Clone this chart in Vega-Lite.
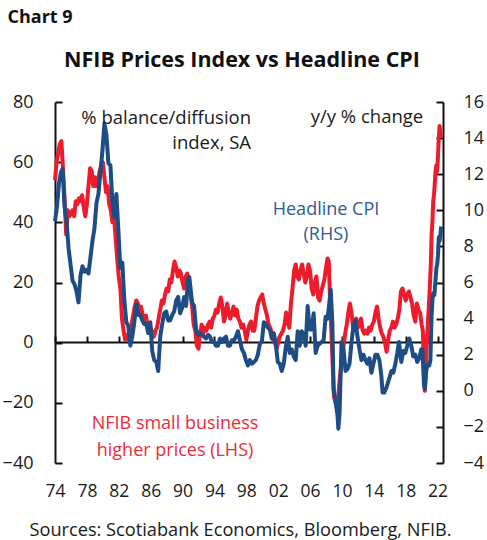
{
  "$schema": "https://vega.github.io/schema/vega-lite/v6.json",
  "width": 388,
  "height": 361,
  "autosize": {"type": "none"},
  "padding": {"left": 55, "top": 102, "right": 44, "bottom": 77},
  "background": "white",
  "title": {"text": "NFIB Prices Index vs Headline CPI", "anchor": "middle", "frame": "group", "fontSize": 21.5, "fontWeight": "bold", "font": "Open Sans", "color": "#111111", "dx": -7, "offset": 24, "dy": 87},
  "config": {"view": {"stroke": null}, "font": "Open Sans", "axis": {"grid": false, "labelFont": "Open Sans", "titleFont": "Open Sans"}},
  "datasets": {
    "nfib": [
      {"t":1974.0,"v":54},{"t":1974.2,"v":60},{"t":1974.4,"v":63},{"t":1974.6,"v":66},{"t":1974.8,"v":67},{"t":1975.0,"v":58},{"t":1975.2,"v":48},{"t":1975.4,"v":36},{"t":1975.6,"v":44},{"t":1975.8,"v":42},
      {"t":1976.0,"v":43},{"t":1976.2,"v":44},{"t":1976.4,"v":42},{"t":1976.6,"v":47},{"t":1976.8,"v":46},{"t":1977.0,"v":48},{"t":1977.2,"v":47},{"t":1977.4,"v":49},{"t":1977.6,"v":45},{"t":1977.8,"v":42},
      {"t":1978.0,"v":46},{"t":1978.2,"v":52},{"t":1978.4,"v":58},{"t":1978.6,"v":57},{"t":1978.8,"v":52},{"t":1979.0,"v":55},{"t":1979.2,"v":52},{"t":1979.4,"v":54},{"t":1979.6,"v":57},{"t":1979.8,"v":59},
      {"t":1980.0,"v":60},{"t":1980.2,"v":55},{"t":1980.4,"v":50},{"t":1980.6,"v":52},{"t":1980.8,"v":46},{"t":1981.0,"v":44},{"t":1981.2,"v":40},{"t":1981.4,"v":42},{"t":1981.6,"v":35},{"t":1981.8,"v":28},
      {"t":1982.0,"v":22},{"t":1982.2,"v":18},{"t":1982.4,"v":8},{"t":1982.6,"v":4},{"t":1982.8,"v":1},{"t":1983.0,"v":1},{"t":1983.2,"v":3},{"t":1983.4,"v":4},{"t":1983.6,"v":6},{"t":1983.8,"v":9},
      {"t":1984.0,"v":12},{"t":1984.2,"v":14},{"t":1984.4,"v":13},{"t":1984.6,"v":10},{"t":1984.8,"v":12},{"t":1985.0,"v":9},{"t":1985.2,"v":8},{"t":1985.4,"v":9},{"t":1985.6,"v":6},{"t":1985.8,"v":4},
      {"t":1986.0,"v":5},{"t":1986.2,"v":3},{"t":1986.4,"v":2},{"t":1986.6,"v":4},{"t":1986.8,"v":5},{"t":1987.0,"v":8},{"t":1987.2,"v":11},{"t":1987.4,"v":14},{"t":1987.6,"v":13},{"t":1987.8,"v":16},
      {"t":1988.0,"v":18},{"t":1988.2,"v":17},{"t":1988.4,"v":21},{"t":1988.6,"v":20},{"t":1988.8,"v":24},{"t":1989.0,"v":27},{"t":1989.2,"v":25},{"t":1989.4,"v":22},{"t":1989.6,"v":24},{"t":1989.8,"v":23},
      {"t":1990.0,"v":20},{"t":1990.2,"v":18},{"t":1990.4,"v":22},{"t":1990.6,"v":23},{"t":1990.8,"v":20},{"t":1991.0,"v":16},{"t":1991.2,"v":12},{"t":1991.4,"v":6},{"t":1991.6,"v":4},{"t":1991.8,"v":-1},
      {"t":1992.0,"v":-2},{"t":1992.2,"v":3},{"t":1992.4,"v":6},{"t":1992.6,"v":3},{"t":1992.8,"v":5},{"t":1993.0,"v":4},{"t":1993.2,"v":6},{"t":1993.4,"v":7},{"t":1993.6,"v":5},{"t":1993.8,"v":8},
      {"t":1994.0,"v":9},{"t":1994.2,"v":11},{"t":1994.4,"v":10},{"t":1994.6,"v":13},{"t":1994.8,"v":15},{"t":1995.0,"v":12},{"t":1995.2,"v":7},{"t":1995.4,"v":9},{"t":1995.6,"v":13},{"t":1995.8,"v":10},
      {"t":1996.0,"v":8},{"t":1996.2,"v":10},{"t":1996.4,"v":12},{"t":1996.6,"v":9},{"t":1996.8,"v":11},{"t":1997.0,"v":8},{"t":1997.2,"v":7},{"t":1997.4,"v":5},{"t":1997.6,"v":6},{"t":1997.8,"v":4},
      {"t":1998.0,"v":1},{"t":1998.2,"v":4},{"t":1998.4,"v":6},{"t":1998.6,"v":7},{"t":1998.8,"v":4},{"t":1999.0,"v":4},{"t":1999.2,"v":8},{"t":1999.4,"v":12},{"t":1999.6,"v":14},{"t":1999.8,"v":15},
      {"t":2000.0,"v":16},{"t":2000.2,"v":13},{"t":2000.4,"v":11},{"t":2000.6,"v":9},{"t":2000.8,"v":6},{"t":2001.0,"v":5},{"t":2001.2,"v":3},{"t":2001.4,"v":1},{"t":2001.6,"v":0},{"t":2001.8,"v":-2},
      {"t":2002.0,"v":0},{"t":2002.2,"v":2},{"t":2002.4,"v":3},{"t":2002.6,"v":4},{"t":2002.8,"v":6},{"t":2003.0,"v":10},{"t":2003.2,"v":7},{"t":2003.4,"v":5},{"t":2003.6,"v":13},{"t":2003.8,"v":18},
      {"t":2004.0,"v":24},{"t":2004.2,"v":26},{"t":2004.4,"v":22},{"t":2004.6,"v":21},{"t":2004.8,"v":24},{"t":2005.0,"v":26},{"t":2005.2,"v":23},{"t":2005.4,"v":20},{"t":2005.6,"v":22},{"t":2005.8,"v":26},
      {"t":2006.0,"v":24},{"t":2006.2,"v":18},{"t":2006.4,"v":16},{"t":2006.6,"v":20},{"t":2006.8,"v":22},{"t":2007.0,"v":15},{"t":2007.2,"v":14},{"t":2007.4,"v":17},{"t":2007.6,"v":19},{"t":2007.8,"v":21},
      {"t":2008.0,"v":25},{"t":2008.2,"v":28},{"t":2008.35,"v":27},{"t":2008.5,"v":15},{"t":2008.7,"v":2},{"t":2008.85,"v":-8},{"t":2009.0,"v":-18},{"t":2009.2,"v":-20},{"t":2009.4,"v":-22},{"t":2009.6,"v":-16},{"t":2009.8,"v":-10},
      {"t":2010.0,"v":-6},{"t":2010.2,"v":-1},{"t":2010.4,"v":3},{"t":2010.6,"v":6},{"t":2010.8,"v":10},{"t":2011.0,"v":13},{"t":2011.2,"v":10},{"t":2011.4,"v":5},{"t":2011.6,"v":6},{"t":2011.8,"v":8},
      {"t":2012.0,"v":5},{"t":2012.2,"v":6},{"t":2012.4,"v":8},{"t":2012.6,"v":4},{"t":2012.8,"v":3},{"t":2013.0,"v":4},{"t":2013.2,"v":3},{"t":2013.4,"v":5},{"t":2013.6,"v":4},{"t":2013.8,"v":6},
      {"t":2014.0,"v":7},{"t":2014.2,"v":10},{"t":2014.4,"v":12},{"t":2014.6,"v":8},{"t":2014.8,"v":5},{"t":2015.0,"v":3},{"t":2015.2,"v":2},{"t":2015.4,"v":0},{"t":2015.6,"v":-3},{"t":2015.8,"v":1},
      {"t":2016.0,"v":4},{"t":2016.2,"v":5},{"t":2016.4,"v":7},{"t":2016.6,"v":5},{"t":2016.8,"v":6},{"t":2017.0,"v":8},{"t":2017.2,"v":11},{"t":2017.4,"v":17},{"t":2017.6,"v":18},{"t":2017.8,"v":16},
      {"t":2018.0,"v":14},{"t":2018.2,"v":16},{"t":2018.4,"v":17},{"t":2018.6,"v":15},{"t":2018.8,"v":13},{"t":2019.0,"v":9},{"t":2019.2,"v":7},{"t":2019.4,"v":13},{"t":2019.6,"v":11},{"t":2019.8,"v":10},
      {"t":2020.0,"v":6},{"t":2020.15,"v":4},{"t":2020.3,"v":-10},{"t":2020.4,"v":-16},{"t":2020.5,"v":-10},{"t":2020.6,"v":-3},{"t":2020.75,"v":5},{"t":2020.9,"v":12},
      {"t":2021.0,"v":17},{"t":2021.15,"v":26},{"t":2021.25,"v":36},{"t":2021.35,"v":40},{"t":2021.45,"v":47},{"t":2021.55,"v":49},{"t":2021.65,"v":53},{"t":2021.75,"v":57},{"t":2021.85,"v":59},{"t":2021.95,"v":57},
      {"t":2022.05,"v":62},{"t":2022.15,"v":68},{"t":2022.25,"v":72},{"t":2022.35,"v":70},{"t":2022.45,"v":68}
    ],
    "cpi": [
      {"t":1974.0,"v":9.4},{"t":1974.25,"v":10.2},{"t":1974.5,"v":11.5},{"t":1974.75,"v":12.1},{"t":1974.95,"v":12.3},{"t":1975.2,"v":10.2},{"t":1975.45,"v":9.4},{"t":1975.7,"v":7.9},{"t":1975.95,"v":7.0},
      {"t":1976.2,"v":6.1},{"t":1976.45,"v":5.9},{"t":1976.7,"v":5.5},{"t":1976.95,"v":4.9},{"t":1977.2,"v":6.4},{"t":1977.45,"v":6.9},{"t":1977.7,"v":6.6},{"t":1977.95,"v":6.7},
      {"t":1978.2,"v":6.5},{"t":1978.45,"v":7.4},{"t":1978.7,"v":8.3},{"t":1978.95,"v":9.0},{"t":1979.2,"v":10.4},{"t":1979.45,"v":10.9},{"t":1979.7,"v":12.1},{"t":1979.95,"v":13.3},
      {"t":1980.2,"v":14.8},{"t":1980.45,"v":14.2},{"t":1980.7,"v":12.6},{"t":1980.95,"v":12.5},{"t":1981.2,"v":10.5},{"t":1981.45,"v":9.6},{"t":1981.7,"v":10.9},{"t":1981.95,"v":8.9},
      {"t":1982.2,"v":6.8},{"t":1982.45,"v":7.1},{"t":1982.7,"v":5.0},{"t":1982.95,"v":3.8},{"t":1983.2,"v":3.6},{"t":1983.45,"v":2.5},{"t":1983.7,"v":3.0},{"t":1983.95,"v":3.8},
      {"t":1984.2,"v":4.8},{"t":1984.45,"v":4.2},{"t":1984.7,"v":4.2},{"t":1984.95,"v":3.9},{"t":1985.2,"v":3.7},{"t":1985.45,"v":3.7},{"t":1985.7,"v":3.2},{"t":1985.95,"v":3.8},
      {"t":1986.2,"v":2.2},{"t":1986.45,"v":1.7},{"t":1986.7,"v":1.6},{"t":1986.95,"v":1.1},{"t":1987.2,"v":3.0},{"t":1987.45,"v":3.7},{"t":1987.7,"v":4.3},{"t":1987.95,"v":4.4},
      {"t":1988.2,"v":3.9},{"t":1988.45,"v":3.9},{"t":1988.7,"v":4.2},{"t":1988.95,"v":4.4},{"t":1989.2,"v":5.0},{"t":1989.45,"v":5.2},{"t":1989.7,"v":4.3},{"t":1989.95,"v":4.6},
      {"t":1990.2,"v":5.2},{"t":1990.45,"v":4.7},{"t":1990.7,"v":6.2},{"t":1990.85,"v":6.3},{"t":1991.0,"v":5.7},{"t":1991.2,"v":4.9},{"t":1991.45,"v":4.7},{"t":1991.7,"v":3.4},{"t":1991.95,"v":3.1},
      {"t":1992.2,"v":3.2},{"t":1992.45,"v":3.1},{"t":1992.7,"v":3.0},{"t":1992.95,"v":2.9},{"t":1993.2,"v":3.1},{"t":1993.45,"v":3.0},{"t":1993.7,"v":2.7},{"t":1993.95,"v":2.7},
      {"t":1994.2,"v":2.5},{"t":1994.45,"v":2.5},{"t":1994.7,"v":2.9},{"t":1994.95,"v":2.7},{"t":1995.2,"v":2.9},{"t":1995.45,"v":3.0},{"t":1995.7,"v":2.5},{"t":1995.95,"v":2.5},
      {"t":1996.2,"v":2.8},{"t":1996.45,"v":2.8},{"t":1996.7,"v":3.0},{"t":1996.95,"v":3.3},{"t":1997.2,"v":2.8},{"t":1997.45,"v":2.3},{"t":1997.7,"v":2.1},{"t":1997.95,"v":1.7},
      {"t":1998.2,"v":1.4},{"t":1998.45,"v":1.7},{"t":1998.7,"v":1.5},{"t":1998.95,"v":1.6},{"t":1999.2,"v":1.7},{"t":1999.45,"v":2.0},{"t":1999.7,"v":2.6},{"t":1999.95,"v":2.7},
      {"t":2000.2,"v":3.8},{"t":2000.45,"v":3.7},{"t":2000.7,"v":3.5},{"t":2000.95,"v":3.4},{"t":2001.2,"v":2.9},{"t":2001.45,"v":3.2},{"t":2001.7,"v":2.6},{"t":2001.95,"v":1.6},
      {"t":2002.2,"v":1.5},{"t":2002.45,"v":1.1},{"t":2002.7,"v":1.5},{"t":2002.95,"v":2.4},{"t":2003.2,"v":3.0},{"t":2003.45,"v":2.1},{"t":2003.7,"v":2.3},{"t":2003.95,"v":1.9},
      {"t":2004.2,"v":1.7},{"t":2004.45,"v":3.3},{"t":2004.7,"v":2.5},{"t":2004.95,"v":3.3},{"t":2005.2,"v":3.1},{"t":2005.45,"v":2.5},{"t":2005.7,"v":4.7},{"t":2005.95,"v":3.4},
      {"t":2006.2,"v":3.4},{"t":2006.45,"v":4.3},{"t":2006.7,"v":2.1},{"t":2006.95,"v":2.5},{"t":2007.2,"v":2.6},{"t":2007.45,"v":2.7},{"t":2007.7,"v":2.8},{"t":2007.95,"v":4.1},
      {"t":2008.2,"v":4.0},{"t":2008.45,"v":5.0},{"t":2008.6,"v":5.6},{"t":2008.8,"v":3.7},{"t":2008.95,"v":0.1},{"t":2009.15,"v":-0.4},{"t":2009.45,"v":-1.4},{"t":2009.55,"v":-2.1},{"t":2009.7,"v":-1.3},{"t":2009.95,"v":2.7},
      {"t":2010.2,"v":2.3},{"t":2010.45,"v":1.1},{"t":2010.7,"v":1.2},{"t":2010.95,"v":1.5},{"t":2011.2,"v":2.7},{"t":2011.45,"v":3.6},{"t":2011.7,"v":3.9},{"t":2011.95,"v":3.0},
      {"t":2012.2,"v":2.3},{"t":2012.45,"v":1.7},{"t":2012.7,"v":2.0},{"t":2012.95,"v":1.7},{"t":2013.2,"v":1.5},{"t":2013.45,"v":1.8},{"t":2013.7,"v":1.0},{"t":2013.95,"v":1.5},
      {"t":2014.2,"v":2.0},{"t":2014.45,"v":2.0},{"t":2014.7,"v":1.7},{"t":2014.95,"v":0.8},{"t":2015.1,"v":-0.1},{"t":2015.3,"v":-0.1},{"t":2015.6,"v":0.2},{"t":2015.95,"v":0.7},
      {"t":2016.2,"v":1.1},{"t":2016.45,"v":1.0},{"t":2016.7,"v":1.5},{"t":2016.95,"v":2.1},{"t":2017.15,"v":2.7},{"t":2017.45,"v":1.6},{"t":2017.7,"v":2.2},{"t":2017.95,"v":2.1},
      {"t":2018.2,"v":2.5},{"t":2018.45,"v":2.9},{"t":2018.7,"v":2.5},{"t":2018.95,"v":1.9},{"t":2019.2,"v":2.0},{"t":2019.45,"v":1.6},{"t":2019.7,"v":1.8},{"t":2019.95,"v":2.3},
      {"t":2020.1,"v":2.3},{"t":2020.3,"v":0.3},{"t":2020.4,"v":0.1},{"t":2020.55,"v":1.0},{"t":2020.7,"v":1.4},{"t":2020.95,"v":1.4},
      {"t":2021.1,"v":1.7},{"t":2021.25,"v":4.2},{"t":2021.35,"v":5.0},{"t":2021.45,"v":5.4},{"t":2021.6,"v":5.3},{"t":2021.75,"v":6.2},{"t":2021.85,"v":6.8},{"t":2021.95,"v":7.0},
      {"t":2022.05,"v":7.5},{"t":2022.15,"v":8.5},{"t":2022.25,"v":8.3},{"t":2022.35,"v":8.6},{"t":2022.45,"v":9.1}
    ]
  },
  "layer": [
    {
      "data": {"name": "nfib"},
      "mark": {"type": "line", "color": "#EC1C2D", "strokeWidth": 4, "strokeJoin": "round"},
      "encoding": {
        "x": {"field": "t", "type": "quantitative", "scale": {"domain": [1974, 2022.68], "nice": false, "zero": false},
          "axis": {"orient": "bottom", "values": [1974,1978,1982,1986,1990,1994,1998,2002,2006,2010,2014,2018,2022], "labelExpr": "substring(toString(datum.value), 2, 4)", "ticks": false, "domain": false, "labelFontSize": 17.5, "labelColor": "#1a1a1a", "labelPadding": 19, "labelFlush": false,
            "title": "Sources: Scotiabank Economics, Bloomberg, NFIB.", "titleFontSize": 18.2, "titleFontWeight": "normal", "titleColor": "#1a1a1a", "titleX": 185, "titleY": 72, "titleBaseline": "alphabetic"}},
        "y": {"field": "v", "type": "quantitative", "scale": {"domain": [-40, 80], "nice": false, "zero": false},
          "axis": {"orient": "left", "values": [-40,-20,0,20,40,60,80], "domainColor": "#111111", "domainWidth": 2, "tickColor": "#111111", "tickWidth": 2, "tickSize": -7, "labelFontSize": 18, "labelColor": "#1a1a1a", "labelPadding": 29, "labelFlush": false,
            "title": "Chart 9", "titleAngle": 0, "titleAlign": "left", "titleBaseline": "alphabetic", "titleX": -48, "titleY": -80, "titleFontSize": 18, "titleFontWeight": "bold", "titleColor": "#111111"}}
      }
    },
    {
      "data": {"name": "cpi"},
      "mark": {"type": "line", "color": "#1E4D86", "strokeWidth": 4, "strokeJoin": "round"},
      "encoding": {
        "x": {"field": "t", "type": "quantitative",
          "axis": {"orient": "bottom", "offset": -121, "values": [1974,1978,1982,1986,1990,1994,1998,2002,2006,2010,2014,2018,2022], "labels": false, "title": null, "domainColor": "#111111", "domainWidth": 2, "tickColor": "#111111", "tickWidth": 2, "tickSize": -6}},
        "y": {"field": "v", "type": "quantitative", "scale": {"domain": [-4, 16], "nice": false, "zero": false},
          "axis": {"orient": "right", "values": [-4,-2,0,2,4,6,8,10,12,14,16], "domainColor": "#111111", "domainWidth": 2, "tickColor": "#111111", "tickWidth": 2, "tickSize": -7, "labelFontSize": 18, "labelColor": "#1a1a1a", "labelPadding": 27, "labelFlush": false, "title": null}}
      }
    },
    {
      "data": {"values": [{}]},
      "mark": {"type": "text", "text": ["% balance/diffusion", "index, SA"], "align": "right", "baseline": "middle", "lineHeight": 25, "fontSize": 18.5, "color": "#1a1a1a"},
      "encoding": {
        "x": {"datum": 1998.6, "type": "quantitative", "axis": null},
        "y": {"datum": 74.7, "type": "quantitative", "scale": {"domain": [-40, 80], "nice": false, "zero": false}, "axis": null}
      }
    },
    {
      "data": {"values": [{}]},
      "mark": {"type": "text", "text": "y/y % change", "align": "right", "baseline": "middle", "fontSize": 18.5, "color": "#1a1a1a"},
      "encoding": {
        "x": {"datum": 2020.2, "type": "quantitative", "axis": null},
        "y": {"datum": 15.17, "type": "quantitative", "scale": {"domain": [-4, 16], "nice": false, "zero": false}, "axis": null}
      }
    },
    {
      "data": {"values": [{}]},
      "mark": {"type": "text", "text": ["Headline CPI", "(RHS)"], "align": "center", "baseline": "middle", "lineHeight": 25, "fontSize": 18, "color": "#2E5B96"},
      "encoding": {
        "x": {"datum": 2008.0, "type": "quantitative", "axis": null},
        "y": {"datum": 10.04, "type": "quantitative", "scale": {"domain": [-4, 16], "nice": false, "zero": false}, "axis": null}
      }
    },
    {
      "data": {"values": [{}]},
      "mark": {"type": "text", "text": ["NFIB small business", "higher prices (LHS)"], "align": "center", "baseline": "middle", "lineHeight": 27, "fontSize": 18, "color": "#EC2B38"},
      "encoding": {
        "x": {"datum": 1989.06, "type": "quantitative", "axis": null},
        "y": {"datum": -27, "type": "quantitative", "scale": {"domain": [-40, 80], "nice": false, "zero": false}, "axis": null}
      }
    }
  ],
  "resolve": {"scale": {"y": "independent"}, "axis": {"x": "independent", "y": "independent"}}
}
